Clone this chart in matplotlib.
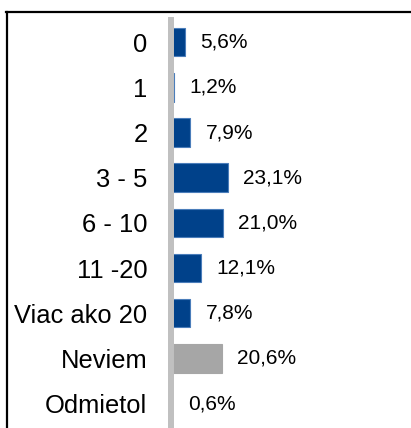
import matplotlib.pyplot as plt
from matplotlib.lines import Line2D

plt.rcParams['font.family'] = ['Liberation Sans', 'DejaVu Sans']

categories = ["0", "1", "2", "3 - 5", "6 - 10", "11 -20", "Viac ako 20", "Neviem", "Odmietol"]
values = [5.6, 1.2, 7.9, 23.1, 21.0, 12.1, 7.8, 20.6, 0.6]
labels = ["5,6%", "1,2%", "7,9%", "23,1%", "21,0%", "12,1%", "7,8%", "20,6%", "0,6%"]
colors = ["#00418A"] * 7 + ["#A6A6A6", "#A6A6A6"]
edges = ["#4A7DBA"] * 7 + ["#A6A6A6", "#A6A6A6"]

W, H = 411, 428
x0 = 171.0
fig = plt.figure(figsize=(W / 100, H / 100), dpi=100)
ax = fig.add_axes([x0 / W, 0, 1 - x0 / W, 1 - 20 / H])

ypos = list(range(len(categories)))
ax.barh(ypos, values, height=0.63, color=colors, edgecolor=edges, linewidth=0.8, zorder=1)
for y, v, lab in zip(ypos, values, labels):
    ax.annotate(lab, (v, y), xytext=(11.2, 0), textcoords="offset points",
                va="center", ha="left", fontsize=15)

ax.set_xlim(0, (W - x0) / 2.457)
ax.set_ylim(8.54, -0.49)
ax.set_yticks(ypos)
ax.set_yticklabels(categories, fontsize=18.4)
ax.tick_params(axis="y", length=0, pad=17)
ax.set_xticks([])
for s in ["top", "right", "bottom"]:
    ax.spines[s].set_visible(False)
ax.spines["left"].set_color("#C0C0C0")
ax.spines["left"].set_linewidth(4.3)
ax.spines["left"].set_zorder(3)

# frame lines cut off by the crop
fig.add_artist(Line2D([6 / W, 1], [1 - 11.8 / H, 1 - 11.8 / H], color="black", lw=1.6,
                      transform=fig.transFigure))
fig.add_artist(Line2D([7 / W, 7 / W], [0, 1 - 11.8 / H], color="black", lw=1.6,
                      transform=fig.transFigure))

fig.savefig("out.png", dpi=100)
